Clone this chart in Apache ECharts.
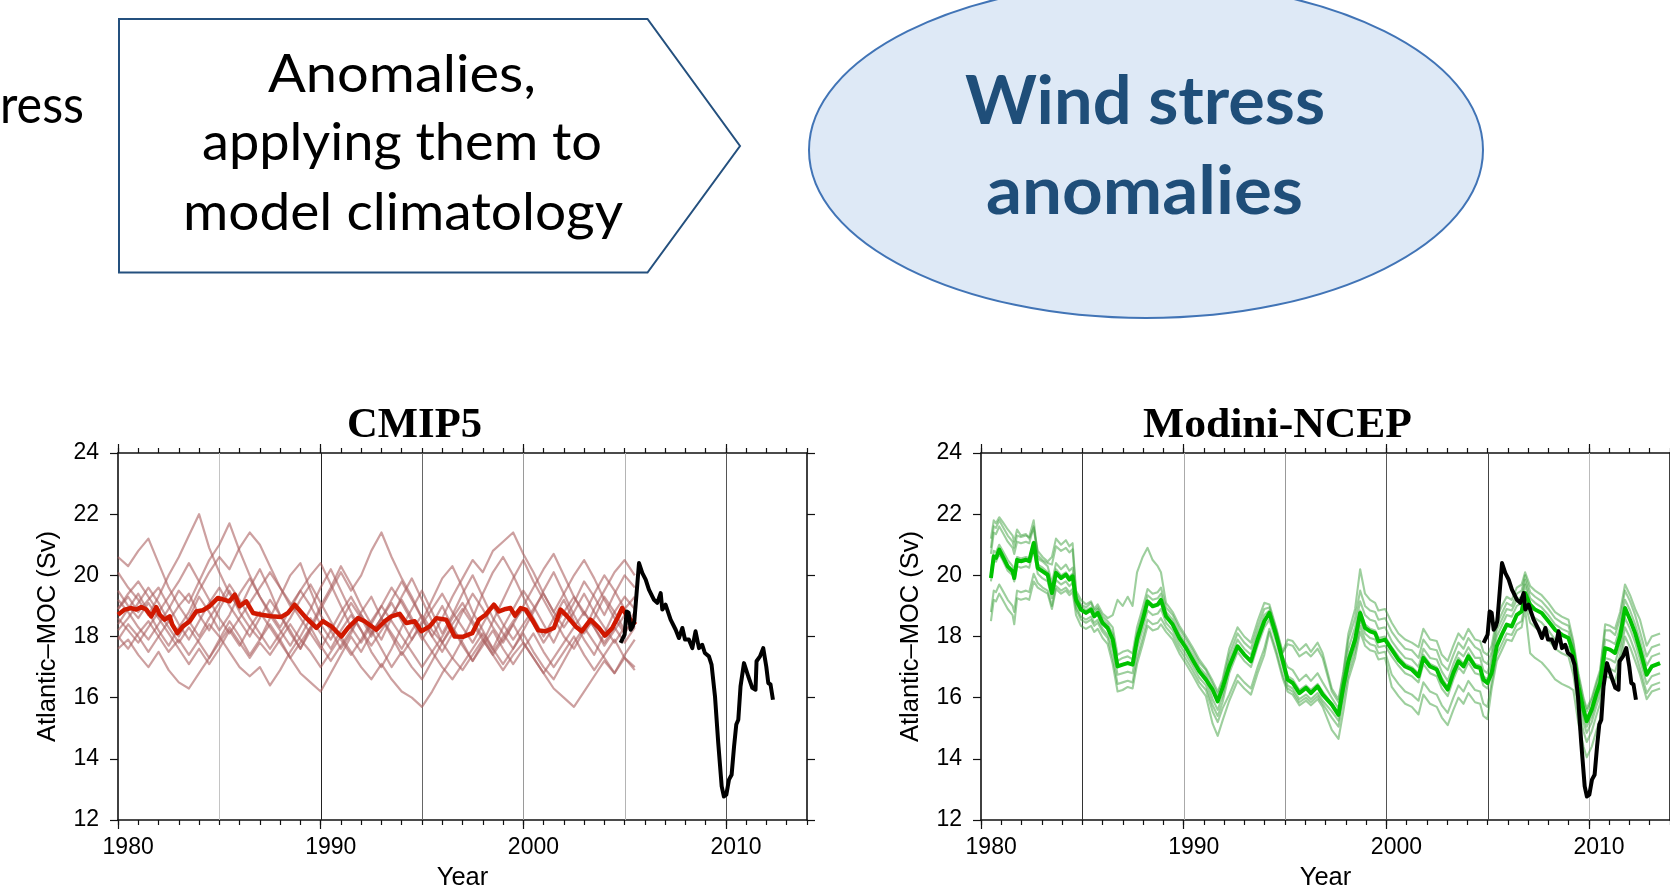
<!DOCTYPE html>
<html><head><meta charset="utf-8">
<script src="https://cdn.jsdelivr.net/npm/echarts@6/dist/echarts.min.js"></script>
<style>html,body{margin:0;padding:0;background:#fff}#c{width:1670px;height:894px}</style>
</head><body><div id="c"></div>
<script>
// ---------------- data ----------------
const PANEL_TITLES = ['CMIP5', 'Modini-NCEP'];
const X_TICK_LABELS = [1980, 1990, 2000, 2010];
const Y_TICK_LABELS = [12, 14, 16, 18, 20, 22, 24];
const GRID_YEARS = [1985, 1990, 1995, 2000, 2005, 2010];

// observed (black), same in both panels
const OBS_X = [2004.80,2005.00,2005.10,2005.20,2005.30,2005.40,2005.48,2005.71,2005.87,2006.04,2006.20,2006.45,2006.61,2006.78,2006.86,2007.02,2007.27,2007.52,2007.68,2007.85,2007.98,2008.17,2008.34,2008.50,2008.67,2008.83,2008.96,2009.16,2009.29,2009.46,2009.62,2009.79,2009.90,2010.02,2010.15,2010.28,2010.40,2010.51,2010.61,2010.72,2010.89,2011.10,2011.30,2011.46,2011.51,2011.68,2011.84,2011.99,2012.09,2012.20,2012.32];
const OBS_Y = [17.79,18.06,18.82,18.77,18.22,18.33,18.50,20.40,20.08,19.86,19.53,19.20,19.10,19.42,18.88,19.04,18.55,18.22,17.95,18.28,17.90,17.90,17.62,18.17,17.62,17.73,17.46,17.35,17.08,16.04,14.52,13.10,12.77,12.83,13.32,13.48,14.40,15.12,15.28,16.37,17.13,16.70,16.32,16.26,17.19,17.35,17.62,17.02,16.48,16.43,15.93];

// CMIP5 ensemble mean (red)
const RED_X = [1980.00,1980.33,1980.66,1980.90,1981.15,1981.40,1981.64,1981.89,1982.06,1982.30,1982.55,1982.68,1982.93,1983.20,1983.54,1983.86,1984.19,1984.52,1984.93,1985.26,1985.50,1985.76,1986.00,1986.33,1986.66,1987.07,1987.57,1988.06,1988.39,1988.72,1989.21,1989.79,1990.11,1990.53,1991.02,1991.35,1991.84,1992.17,1992.75,1993.16,1993.49,1993.90,1994.23,1994.64,1994.97,1995.38,1995.71,1996.20,1996.61,1997.02,1997.48,1997.81,1998.14,1998.55,1998.80,1999.13,1999.37,1999.59,1999.87,2000.12,2000.44,2000.74,2001.10,2001.51,2001.84,2002.17,2002.58,2002.88,2003.32,2003.73,2004.03,2004.39,2004.69,2004.88,2005.13,2005.54];
const RED_Y = [18.71,18.88,18.93,18.88,18.96,18.88,18.66,18.96,18.71,18.55,18.66,18.39,18.11,18.33,18.50,18.82,18.86,18.99,19.26,19.20,19.15,19.37,18.99,19.15,18.77,18.71,18.66,18.64,18.77,19.04,18.66,18.28,18.50,18.33,18.00,18.28,18.60,18.50,18.22,18.50,18.66,18.74,18.44,18.50,18.17,18.33,18.60,18.55,18.00,17.99,18.11,18.55,18.71,19.04,18.82,18.90,18.93,18.68,18.93,18.88,18.55,18.20,18.17,18.28,18.88,18.66,18.33,18.17,18.55,18.28,18.03,18.28,18.66,18.93,18.66,18.39];

// CMIP5 individual models (pink), half-year samples
const PINK_X = [1980,1980.5,1981,1981.5,1982,1982.5,1983,1983.5,1984,1984.5,1985,1985.5,1986,1986.5,1987,1987.5,1988,1988.5,1989,1989.5,1990,1990.5,1991,1991.5,1992,1992.5,1993,1993.5,1994,1994.5,1995,1995.5,1996,1996.5,1997,1997.5,1998,1998.5,1999,1999.5,2000,2000.5,2001,2001.5,2002,2002.5,2003,2003.5,2004,2004.5,2005,2005.5];
const PINK_1 = [20.6,20.3,20.8,21.2,20.4,19.6,19.0,19.4,18.7,18.2,18.9,19.5,18.8,18.3,17.9,18.6,19.3,20.0,20.4,19.5,18.7,18.2,17.6,18.1,18.8,19.3,18.6,18.0,17.4,17.9,18.5,19.2,19.9,20.3,19.6,18.8,18.2,17.6,18.3,18.9,19.5,19.0,18.4,17.8,18.5,19.1,19.8,19.3,18.7,19.4,20.0,19.6];
const PINK_2 = [20.1,19.6,19.2,18.7,19.3,20.0,20.6,21.3,22.0,20.9,20.1,19.4,18.9,19.6,20.2,19.5,18.7,18.2,17.6,18.3,19.0,19.6,20.3,19.7,19.0,18.4,17.9,18.6,19.3,19.9,19.2,18.5,17.8,17.3,17.9,18.6,19.4,20.1,20.6,20.0,19.3,18.6,18.0,18.6,19.2,18.5,17.9,17.4,18.1,18.8,19.3,18.9];
const PINK_3 = [19.2,18.8,18.3,17.9,18.4,18.9,19.5,19.1,19.8,20.5,21.0,21.7,20.8,20.0,19.3,18.7,18.2,17.7,18.3,18.9,19.6,20.2,19.5,18.8,18.2,17.5,17.0,17.6,18.3,18.9,19.5,18.8,18.1,18.7,19.4,20.0,19.3,18.6,18.1,17.6,18.2,18.8,19.5,20.1,19.4,18.7,18.1,18.6,19.3,18.8,18.2,18.5];
const PINK_4 = [18.4,18.9,19.4,18.8,18.2,17.7,18.3,18.8,19.5,20.1,20.6,20.2,20.9,21.4,21.0,20.3,19.6,19.0,19.5,20.0,20.4,19.7,19.0,18.3,17.8,18.4,19.0,19.6,19.1,18.5,17.9,18.4,19.0,18.3,17.7,17.2,17.8,18.5,19.2,19.9,20.5,19.8,19.2,18.6,18.0,17.6,18.2,18.9,19.5,20.1,20.5,20.0];
const PINK_5 = [18.9,19.3,18.8,19.2,19.6,19.0,18.4,17.9,18.5,19.1,19.6,19.0,18.5,18.0,18.6,19.2,18.7,18.1,17.6,18.2,18.9,19.5,20.1,19.5,20.0,20.8,21.4,20.6,19.9,19.3,18.6,18.0,17.5,18.1,18.8,19.4,18.9,18.3,17.8,18.4,19.0,19.6,20.2,20.7,20.0,19.3,18.7,19.4,20.0,19.5,18.9,19.3];
const PINK_6 = [18.2,18.6,19.1,19.6,19.1,18.5,18.0,18.6,19.3,18.8,18.2,18.7,19.4,19.9,19.3,18.8,18.3,18.9,19.5,19.0,18.4,17.9,18.5,19.1,18.6,18.0,18.6,19.2,19.8,19.2,18.6,18.0,18.6,19.3,19.9,20.5,20.1,20.8,21.1,21.4,20.7,20.1,19.4,18.8,19.4,20.0,20.5,19.9,19.2,18.6,18.1,18.6];
const PINK_7 = [17.6,17.9,17.4,17.0,17.5,16.9,16.5,16.3,16.8,17.3,17.9,18.5,18.0,17.4,17.9,18.4,17.9,17.3,17.8,18.3,17.7,17.2,17.7,18.2,18.7,18.2,17.6,17.0,17.5,17.0,16.6,17.2,17.8,18.3,17.8,17.2,17.7,18.2,17.6,17.1,17.6,18.1,17.5,17.0,17.5,18.0,17.4,16.9,17.4,17.9,17.3,17.0];
const PINK_8 = [18.0,17.6,18.1,18.5,18.0,17.5,17.9,17.4,17.9,18.4,18.0,17.5,17.0,16.7,17.0,16.4,16.9,17.5,18.0,18.6,18.1,17.6,18.2,18.7,18.2,17.7,18.2,18.7,19.2,18.6,18.0,17.5,17.0,16.6,17.1,17.6,18.1,17.6,17.1,17.6,18.1,17.5,17.0,16.6,17.2,17.8,18.3,17.8,17.3,16.8,17.4,17.9];
const PINK_9 = [19.5,19.0,18.6,19.1,18.6,18.1,17.6,17.1,17.6,17.1,17.6,18.2,17.7,18.3,18.8,18.3,17.8,17.3,16.8,16.5,16.2,16.8,17.4,18.0,17.5,18.1,18.6,18.1,17.6,18.2,18.7,18.2,17.8,18.4,18.9,18.4,17.9,17.4,17.9,18.4,17.8,17.3,16.8,17.3,17.8,18.3,18.8,18.3,17.8,18.3,17.8,18.3];
const PINK_10 = [18.6,18.2,17.8,18.3,18.8,18.3,17.8,18.3,17.8,17.3,17.8,18.3,17.8,17.3,17.8,17.4,17.9,18.4,17.9,17.5,17.0,17.5,18.0,17.5,17.0,16.6,17.1,16.6,16.2,16.0,15.7,16.2,16.8,17.3,16.9,17.4,17.9,17.4,16.9,17.4,17.8,17.3,16.8,16.3,16.0,15.7,16.2,16.7,17.2,16.8,17.3,16.9];
const PINK_11 = [18.9,19.4,19.8,19.3,18.8,19.3,19.8,20.4,19.8,19.2,18.6,18.1,18.6,19.1,19.6,20.1,19.6,19.1,18.6,18.1,17.6,18.2,18.8,19.3,18.7,18.1,18.6,19.1,18.5,17.9,18.4,18.9,19.4,18.8,18.3,17.8,18.4,19.0,18.4,17.9,18.4,18.9,19.4,18.8,18.3,18.8,19.4,18.8,18.3,17.8,18.3,18.8];
const PINK_12 = [17.9,18.4,18.0,17.5,18.0,18.5,19.0,18.5,18.0,18.6,19.1,19.7,19.2,18.6,18.1,17.6,18.1,18.6,19.2,19.7,19.1,18.5,17.9,17.4,17.9,18.5,19.0,18.5,18.0,17.5,17.0,17.5,18.0,18.6,19.1,18.5,18.0,17.5,18.0,18.5,18.9,18.4,17.8,18.3,18.8,19.3,18.8,18.3,17.7,18.2,18.7,18.3];

// Modini-NCEP (green)
const GREEN_X = [1980.49,1980.63,1980.74,1980.90,1981.07,1981.32,1981.56,1981.64,1981.78,1981.97,1982.22,1982.38,1982.60,1982.80,1983.04,1983.29,1983.50,1983.70,1983.95,1984.19,1984.36,1984.52,1984.69,1984.93,1985.18,1985.43,1985.59,1985.76,1986.00,1986.25,1986.50,1986.74,1986.99,1987.24,1987.48,1987.70,1987.98,1988.22,1988.47,1988.72,1988.88,1989.13,1989.46,1989.79,1990.12,1990.44,1990.77,1991.10,1991.43,1991.68,1991.92,1992.25,1992.66,1992.99,1993.32,1993.65,1993.98,1994.23,1994.56,1994.88,1995.13,1995.38,1995.71,1996.04,1996.28,1996.61,1996.86,1997.31,1997.64,1997.88,1998.13,1998.46,1998.71,1998.95,1999.20,1999.45,1999.61,1999.94,2000.27,2000.60,2000.93,2001.26,2001.59,2001.83,2002.16,2002.49,2002.74,2003.03,2003.31,2003.56,2003.81,2004.05,2004.38,2004.63,2004.79,2004.99,2005.20,2005.45,2005.70,2005.94,2006.19,2006.44,2006.68,2006.85,2007.10,2007.34,2007.67,2008.00,2008.33,2008.66,2008.99,2009.23,2009.48,2009.73,2009.89,2010.14,2010.38,2010.55,2010.80,2011.04,2011.29,2011.54,2011.78,2012.03,2012.28,2012.52,2012.85,2013.10,2013.51];
const GREEN_MEAN = [19.91,20.62,20.57,20.84,20.62,20.29,20.13,19.91,20.51,20.46,20.51,20.46,21.06,20.24,20.13,20.02,19.42,20.08,19.91,20.02,19.86,19.97,19.20,18.88,18.77,18.88,18.66,18.77,18.44,18.28,17.90,17.02,17.08,17.13,17.08,17.90,18.55,19.15,18.99,19.04,19.20,18.66,18.39,17.95,17.62,17.24,16.86,16.59,16.26,15.88,16.32,17.02,17.68,17.41,17.19,17.90,18.50,18.77,18.06,17.24,16.59,16.48,16.15,16.32,16.15,16.37,16.10,15.77,15.44,16.37,17.19,17.90,18.77,18.28,18.17,18.11,17.84,17.90,17.57,17.24,17.02,16.92,16.70,17.30,17.02,16.92,16.53,16.26,16.81,17.19,17.02,17.35,17.02,16.97,16.59,16.48,16.81,17.68,18.06,18.39,18.33,18.71,18.82,19.42,19.04,18.88,18.77,18.50,18.22,18.06,17.95,17.46,16.37,15.61,15.23,15.61,16.15,16.48,17.62,17.57,17.46,18.01,18.93,18.55,18.11,17.57,16.75,17.02,17.13];
const GREEN_1 = [21.2,21.8,21.7,21.9,21.75,21.5,21.3,21.1,21.5,21.3,21.35,21.2,21.55,20.8,20.6,20.45,20.6,21.2,21.0,21.15,20.95,21.05,19.5,19.2,19.05,19.15,18.9,19.05,18.75,18.6,18.7,19.2,19.0,19.3,19.0,20.1,20.6,20.9,20.5,20.3,20.1,19.1,18.8,18.35,18.0,17.65,17.25,16.95,16.55,16.2,16.6,17.6,18.3,18.0,17.8,18.5,19.1,19.05,18.3,17.5,17.9,17.85,17.55,17.75,17.5,17.8,17.45,16.3,15.95,16.85,18.1,18.9,20.2,19.4,19.2,19.1,18.85,18.9,18.45,18.1,17.9,17.8,17.65,18.25,17.9,17.85,17.4,17.2,17.7,18.1,17.9,18.25,17.9,17.85,17.5,17.4,17.7,18.6,19.0,19.3,19.2,19.6,19.7,20.1,19.65,19.5,19.35,19.1,18.8,18.65,18.55,17.85,16.8,16.0,15.65,16.0,16.55,16.9,18.4,18.35,18.25,18.8,19.7,19.35,18.9,18.55,17.7,18.0,18.1];
const GREEN_2 = [20.9,21.6,21.55,21.8,21.6,21.3,21.1,20.9,21.3,21.25,21.3,21.25,21.8,20.65,20.5,20.4,20.35,20.95,20.8,20.9,20.75,20.85,19.4,19.05,18.95,19.1,18.85,18.95,18.65,18.5,18.3,17.4,17.5,17.55,17.45,18.3,18.95,19.55,19.4,19.45,19.6,18.95,18.7,18.25,17.9,17.55,17.15,16.9,16.45,16.1,16.5,17.4,18.1,17.8,17.6,18.3,18.9,18.95,18.25,17.45,17.75,17.7,17.35,17.5,17.35,17.6,17.3,16.2,15.85,16.75,17.9,18.6,19.5,19.0,18.85,18.8,18.55,18.6,18.15,17.85,17.6,17.55,17.3,17.9,17.6,17.55,17.1,16.9,17.4,17.8,17.6,17.95,17.65,17.55,17.2,17.1,17.5,18.4,18.75,19.1,19.0,19.4,19.5,20.0,19.45,19.3,19.15,18.9,18.6,18.45,18.35,17.75,16.7,15.9,15.55,15.9,16.45,16.8,18.2,18.2,18.05,18.6,19.5,19.15,18.7,18.15,17.35,17.65,17.75];
const GREEN_3 = [20.7,21.4,21.35,21.6,21.4,21.1,20.9,20.7,21.1,21.05,21.1,21.05,21.6,20.55,20.45,20.3,19.75,20.4,20.2,20.35,20.15,20.25,19.3,19.0,18.85,18.95,18.75,18.9,18.55,18.4,18.1,17.2,17.3,17.35,17.25,18.1,18.75,19.35,19.2,19.25,19.4,18.8,18.55,18.1,17.75,17.4,17.0,16.75,16.25,15.9,16.35,17.2,17.9,17.6,17.4,18.1,18.7,18.85,18.15,17.35,17.0,16.9,16.55,16.75,16.55,16.8,16.5,16.0,15.65,16.55,17.6,18.3,19.15,18.7,18.55,18.5,18.25,18.3,17.85,17.55,17.3,17.25,17.0,17.6,17.3,17.25,16.85,16.55,17.1,17.5,17.35,17.65,17.3,17.3,16.9,16.8,17.3,18.2,18.55,18.9,18.85,19.2,19.3,19.85,19.25,19.1,18.95,18.7,18.4,18.25,18.15,17.55,16.5,15.7,15.35,15.7,16.25,16.6,17.9,17.85,17.75,18.3,19.2,18.85,18.4,17.85,17.05,17.35,17.45];
const GREEN_4 = [20.1,20.8,20.75,21.0,20.8,20.5,20.3,20.1,20.6,20.55,20.6,20.55,21.1,20.35,20.25,20.1,19.55,20.2,20.0,20.1,19.95,20.05,19.2,18.9,18.75,18.9,18.65,18.8,18.45,18.3,17.9,17.05,17.1,17.15,17.1,17.9,18.55,19.1,19.0,19.05,19.2,18.65,18.4,17.95,17.6,17.25,16.85,16.6,15.95,15.6,16.05,17.0,17.7,17.4,17.2,17.9,18.5,18.75,18.05,17.25,16.7,16.6,16.25,16.4,16.25,16.45,16.2,15.8,15.45,16.4,17.3,18.0,18.85,18.4,18.25,18.2,17.95,18.0,17.65,17.35,17.1,17.0,16.8,17.4,17.1,17.0,16.65,16.35,16.9,17.3,17.1,17.45,17.1,17.05,16.7,16.6,17.1,18.0,18.35,18.7,18.65,19.0,19.1,19.7,19.05,18.9,18.75,18.5,18.2,18.05,17.95,17.25,16.15,15.4,15.05,15.4,15.95,16.3,17.6,17.55,17.45,18.0,18.9,18.55,18.1,17.55,16.75,17.0,17.1];
const GREEN_5 = [19.8,20.5,20.45,20.7,20.5,20.15,20.0,19.8,20.3,20.25,20.3,20.25,20.85,20.05,19.9,19.8,19.25,19.85,19.7,19.8,19.65,19.75,19.0,18.65,18.55,18.65,18.45,18.55,18.25,18.05,17.6,16.75,16.8,16.85,16.8,17.6,18.25,18.85,18.7,18.75,18.9,18.45,18.2,17.75,17.4,17.05,16.65,16.4,15.75,15.4,15.85,16.8,17.5,17.2,17.0,17.7,18.3,18.55,17.85,17.05,16.4,16.3,15.95,16.1,15.95,16.15,15.9,15.55,15.25,16.15,17.0,17.7,18.55,18.1,17.95,17.9,17.65,17.7,17.35,17.05,16.8,16.7,16.5,17.1,16.8,16.7,16.3,16.05,16.6,17.0,16.8,17.15,16.8,16.75,16.4,16.3,16.8,17.7,18.05,18.4,18.35,18.7,18.8,19.4,18.75,18.6,18.45,18.2,17.9,17.75,17.65,17.05,15.95,15.2,14.85,15.2,15.75,16.1,17.3,17.25,17.15,17.7,18.6,18.25,17.8,17.25,16.45,16.7,16.8];
const GREEN_6 = [18.8,19.5,19.45,19.7,19.5,19.2,19.0,18.8,19.5,19.45,19.5,19.45,20.05,19.75,19.6,19.5,19.0,19.65,19.5,19.6,19.45,19.55,18.9,18.55,18.45,18.55,18.35,18.45,18.15,17.95,17.3,16.45,16.5,16.55,16.5,17.3,17.95,18.55,18.4,18.45,18.6,18.3,18.05,17.6,17.25,16.9,16.5,16.25,15.55,15.2,15.65,16.1,16.75,16.5,16.3,17.0,17.6,18.25,17.55,16.75,16.3,16.2,15.85,16.0,15.85,16.05,15.8,15.35,15.05,15.95,16.8,17.5,18.35,17.9,17.75,17.7,17.45,17.5,16.75,16.45,16.2,16.1,15.9,16.5,16.2,16.1,15.75,15.5,16.0,16.4,16.2,16.55,16.25,16.2,15.8,15.7,16.5,17.4,17.75,18.1,18.05,18.4,18.5,19.1,18.45,18.3,18.15,17.9,17.6,17.45,17.35,16.75,15.65,14.9,14.55,14.9,15.45,15.8,17.0,16.95,16.85,17.4,18.3,17.95,17.5,16.95,16.15,16.4,16.5];
const GREEN_7 = [18.5,19.2,19.15,19.4,19.2,18.9,18.7,18.4,19.25,19.2,19.25,19.2,19.8,19.6,19.5,19.4,18.9,19.55,19.4,19.5,19.35,19.45,18.7,18.35,18.25,18.35,18.15,18.25,17.95,17.75,17.1,16.2,16.25,16.35,16.3,17.1,17.75,18.35,18.2,18.25,18.4,18.15,17.9,17.45,17.1,16.75,16.35,16.05,15.15,14.75,15.25,15.9,16.55,16.3,16.1,16.8,17.4,18.15,17.45,16.65,16.2,16.1,15.75,15.9,15.75,15.95,15.7,14.95,14.65,15.55,16.6,17.3,18.15,17.7,17.55,17.5,17.25,17.3,16.35,16.05,15.8,15.7,15.45,16.1,15.8,15.7,15.35,15.1,15.6,16.0,15.8,16.15,15.85,15.8,15.4,15.3,16.3,17.2,17.55,17.9,17.85,18.2,18.3,18.9,17.45,17.3,17.15,16.9,16.6,16.45,16.35,16.25,15.15,14.4,14.05,14.4,14.95,15.3,16.7,16.65,16.55,17.1,18.0,17.65,17.2,16.75,15.95,16.2,16.3];

const PINK_SET = [PINK_1,PINK_2,PINK_3,PINK_4,PINK_5,PINK_6,PINK_7,PINK_8,PINK_9,PINK_10,PINK_11,PINK_12];
const GREEN_SET = [GREEN_1,GREEN_2,GREEN_3,GREEN_4,GREEN_5,GREEN_6,GREEN_7];

// ---------------- styles / layout ----------------
const GRID_COLORS = [
  ['#c4c4c4', '#222222', '#666666', '#9a9a9a', '#b4b4b4', '#555555'],
  ['#333333', '#aaaaaa', '#999999', '#555555', '#444444', '#bbbbbb']
];
const FONT = 'Liberation Sans';
const GRIDS = [
  {left: 118, top: 453, width: 689, height: 367},
  {left: 981, top: 453, width: 689, height: 367}
];
const YEAR_TICKS = [];
for (let y = 1980; y <= 2014; y++) YEAR_TICKS.push(y);
const LABEL_POS = X_TICK_LABELS.map(v => v + 0.5);

function xAxes(gi) {
  const base = {gridIndex: gi, type: 'value', min: 1980, max: 2014, splitLine: {show: false}, axisPointer: {show: false}};
  const line = {show: true, onZero: false, lineStyle: {color: '#111', width: 1.6}};
  const tk = (vals, len) => ({show: true, inside: false, customValues: vals, length: len, lineStyle: {color: '#111', width: 1.2}});
  return [
    Object.assign({}, base, {position: 'bottom', axisLine: line, axisTick: tk(YEAR_TICKS, 5),
      axisLabel: {show: true, customValues: LABEL_POS, formatter: v => String(Math.round(v - 0.5)),
        fontSize: 23, fontFamily: FONT, color: '#000', margin: 16},
      name: 'Year', nameLocation: 'middle', nameGap: 45,
      nameTextStyle: {fontSize: 25.5, fontFamily: FONT, color: '#000'}}),
    Object.assign({}, base, {position: 'bottom', axisLine: {show: false}, axisTick: tk(X_TICK_LABELS, 9), axisLabel: {show: false}}),
    Object.assign({}, base, {position: 'top', axisLine: line, axisTick: tk(YEAR_TICKS, 5), axisLabel: {show: false}}),
    Object.assign({}, base, {position: 'top', axisLine: {show: false}, axisTick: tk(X_TICK_LABELS, 9), axisLabel: {show: false}})
  ];
}
function yAxes(gi) {
  const base = {gridIndex: gi, type: 'value', min: 12, max: 24, interval: 2, splitLine: {show: false},
    axisLine: {show: true, onZero: false, lineStyle: {color: '#111', width: 1.6}},
    axisTick: {show: true, inside: false, length: 8, lineStyle: {color: '#111', width: 1.2}}};
  return [
    Object.assign({}, base, {position: 'left',
      axisLabel: {show: true, fontSize: 23, fontFamily: FONT, color: '#000', margin: 19,
        customValues: Y_TICK_LABELS},
      name: 'Atlantic\u2013MOC (Sv)', nameLocation: 'middle', nameGap: 57,
      nameTextStyle: {fontSize: 25.5, fontFamily: FONT, color: '#000'}}),
    Object.assign({}, base, {position: 'right', axisLabel: {show: false}})
  ];
}
function line(xs, ys, gi, color, width, z) {
  const data = [];
  for (let i = 0; i < xs.length && i < ys.length; i++) data.push([xs[i], ys[i]]);
  return {type: 'line', xAxisIndex: gi * 4, yAxisIndex: gi * 2, data, showSymbol: false, symbol: 'none',
    lineStyle: {color, width, join: 'round'}, z, silent: true, animation: false, clip: true, sampling: null};
}
function gridLines(gi) {
  return {type: 'custom', xAxisIndex: gi * 4, yAxisIndex: gi * 2, z: 1, silent: true, animation: false,
    data: GRID_YEARS.map(y => [y, 18]),
    renderItem: (params, api) => {
      const x = api.value(0);
      const p1 = api.coord([x, 12]), p2 = api.coord([x, 24]);
      const px = Math.round(p1[0]) + 0.5;
      return {type: 'line', shape: {x1: px, y1: p1[1], x2: px, y2: p2[1]},
        style: {stroke: GRID_COLORS[gi][params.dataIndex], lineWidth: 1}};
    }};
}

const series = [gridLines(0), gridLines(1)];
PINK_SET.forEach(arr => series.push(line(PINK_X, arr, 0, 'rgba(172,96,96,0.6)', 2.2, 2)));
series.push(line(RED_X, RED_Y, 0, '#d01800', 4.5, 3));
series.push(line(OBS_X, OBS_Y, 0, '#000000', 4, 4));
GREEN_SET.forEach(arr => series.push(line(GREEN_X, arr, 1, 'rgba(60,160,60,0.5)', 2.1, 2)));
series.push(line(GREEN_X, GREEN_MEAN, 1, '#00c200', 4, 3));
series.push(line(OBS_X, OBS_Y, 1, '#000000', 4, 4));

// ---------------- top diagram ----------------
const mctx = document.createElement('canvas').getContext('2d');
function fit(text, font, w) { mctx.font = font; const m = mctx.measureText(text).width; return m ? w / m : 1; }
const F_BOX = '52px Lato';
const F_ELL = 'bold 67px Lato';
const F_TTL = 'bold 43px "Liberation Serif"';
function txt(text, font, x, y, w, fill, align) {
  return {type: 'text', x, y, scaleX: w ? fit(text, font, w) : 1, silent: true, z: 10,
    style: {text, font, fill, align: align || 'center', verticalAlign: 'middle'}};
}
const graphic = [
  {type: 'polygon', silent: true, z: 5,
    shape: {points: [[119, 19], [647.5, 19], [740, 146], [647.5, 272.6], [119, 272.6]]},
    style: {fill: '#ffffff', stroke: '#24507e', lineWidth: 2}},
  {type: 'ellipse', silent: true, z: 5,
    shape: {cx: 1146, cy: 150, rx: 337, ry: 168},
    style: {fill: '#dee9f6', stroke: '#4174b6', lineWidth: 2}},
  txt('ress', F_BOX, 84, 106.5, 84, '#000', 'right'),
  txt('Anomalies,', F_BOX, 402, 75, 268, '#000'),
  txt('applying them to', F_BOX, 402, 143.5, 400, '#000'),
  txt('model climatology', F_BOX, 403, 213.5, 440, '#000'),
  txt('Wind stress', F_ELL, 1145, 102, 360, '#1f4e79'),
  txt('anomalies', F_ELL, 1144.5, 192, 317, '#1f4e79'),
  txt(PANEL_TITLES[0], F_TTL, 414.5, 425.5, 135, '#000'),
  txt(PANEL_TITLES[1], F_TTL, 1277.5, 425.5, 269, '#000')
];

const chart = echarts.init(document.getElementById('c'), null, {renderer: 'canvas'});
chart.setOption({
  animation: false,
  backgroundColor: '#ffffff',
  textStyle: {fontFamily: FONT},
  grid: GRIDS,
  xAxis: xAxes(0).concat(xAxes(1)),
  yAxis: yAxes(0).concat(yAxes(1)),
  series,
  graphic
});
</script>
</body></html>
